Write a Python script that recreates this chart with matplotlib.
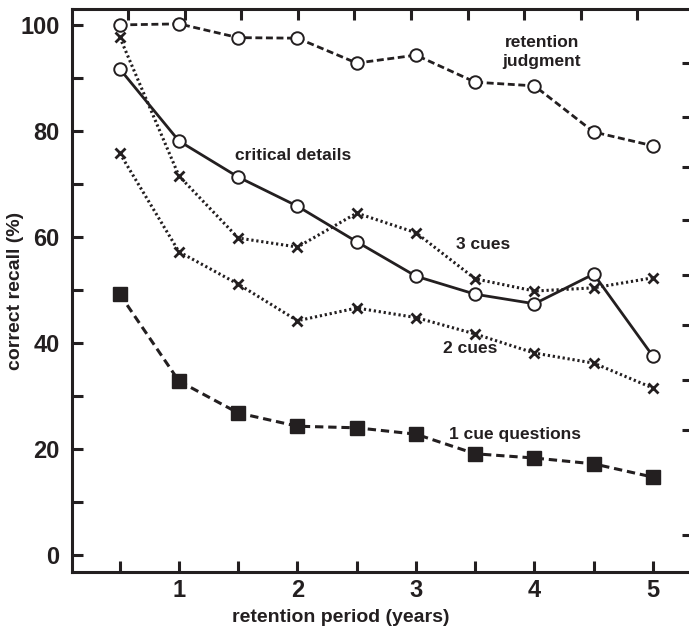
import matplotlib
matplotlib.use("Agg")
import matplotlib.pyplot as plt

plt.rcParams['font.family'] = ['Liberation Sans', 'DejaVu Sans']
plt.rcParams['font.weight'] = 'bold'
plt.rcParams['lines.scale_dashes'] = False

INK = '#231f20'

years = [0.5, 1, 1.5, 2, 2.5, 3, 3.5, 4, 4.5, 5]
retention_judgment = [100.0, 100.2, 97.6, 97.5, 92.8, 94.3, 89.2, 88.5, 79.8, 77.2]
critical_details = [91.7, 78.1, 71.3, 65.8, 59.1, 52.6, 49.2, 47.4, 53.0, 37.5]
three_cues = [97.7, 71.5, 59.8, 58.1, 64.5, 60.8, 52.1, 49.8, 50.4, 52.3]
two_cues = [75.8, 57.2, 51.1, 44.2, 46.6, 44.8, 41.7, 38.1, 36.2, 31.5]
one_cue = [49.2, 32.8, 26.8, 24.3, 24.0, 22.8, 19.1, 18.3, 17.2, 14.7]

yticks = [0, 20, 40, 60, 80, 100]
xticks = [1, 2, 3, 4, 5]

fig = plt.figure(figsize=(6.89, 6.35), dpi=100)
ax = fig.add_axes([0.1045, 0.0992, 0.8955, 0.8866])

# retention judgment: dashed, open circles
ax.plot(years, retention_judgment, color=INK, lw=2.0, dashes=(5, 2.6),
        marker='o', ms=9, mfc='white', mec=INK, mew=1.4, zorder=3)
# critical details: solid, open circles
ax.plot(years, critical_details, color=INK, lw=2.0,
        marker='o', ms=9, mfc='white', mec=INK, mew=1.4, zorder=4)
# cue conditions: dotted with x markers
ax.plot(years, three_cues, color=INK, lw=2.2, dashes=(1.6, 2.0),
        marker='x', ms=7.5, mec=INK, mew=2.0, zorder=3)
ax.plot(years, two_cues, color=INK, lw=2.2, dashes=(1.6, 2.0),
        marker='x', ms=7.5, mec=INK, mew=2.0, zorder=3)
# 1 cue questions: long dashes, filled squares
ax.plot(years, one_cue, color=INK, lw=2.2, dashes=(6, 3.5),
        marker='s', ms=9.5, mfc=INK, mec=INK, zorder=3)

lab = dict(fontsize=12.5, fontweight='bold', color=INK)
ax.text(4.06, 94.9, 'retention\njudgment', ha='center', va='center', linespacing=1.4, **lab)
ax.text(1.47, 75.3, 'critical details', ha='left', va='center', **lab)
ax.text(3.34, 58.5, '3 cues', ha='left', va='center', **lab)
ax.text(3.23, 38.9, '2 cues', ha='left', va='center', **lab)
ax.text(3.28, 22.8, '1 cue questions', ha='left', va='center', **lab)

ax.set_xlim(0.097, 5.304)
ax.set_ylim(-3.2, 103.0)

ax.set_xticks(xticks)
ax.set_xticks([0.5, 1.5, 2.5, 3.5, 4.5], minor=True)
ax.set_yticks(yticks)
ax.set_yticks([10, 30, 50, 70, 90], minor=True)
ax.tick_params(which='both', direction='in', length=8, width=2.2, color=INK,
               labelsize=17, labelcolor=INK, top=False, right=False)
ax.tick_params(axis='y', which='both', pad=9)
ax.tick_params(axis='x', which='both', pad=5)
for t in ax.get_xticklabels() + ax.get_yticklabels():
    t.set_fontweight('bold')

for side in ['left', 'bottom', 'top']:
    ax.spines[side].set_linewidth(2.2)
    ax.spines[side].set_color(INK)
ax.spines['right'].set_visible(False)

# odd extra ticks on the top and right edges of the original figure
top = ax.twiny()
top.set_xlim(ax.get_xlim())
top.set_xticks([0.570 + 0.4776 * k for k in range(10)])
top.set_xticklabels([])
top.tick_params(direction='in', length=8, width=2.2, color=INK)
for s in top.spines.values():
    s.set_visible(False)

right = ax.twinx()
right.set_ylim(ax.get_ylim())
right.set_yticks([92.8, 82.6, 73.2, 63.2, 52.8, 43.4, 33.0, 23.6, 3.8])
right.set_yticklabels([])
right.tick_params(direction='in', length=5, width=2.2, color=INK)
for s in right.spines.values():
    s.set_visible(False)

fig.text(0.495, 0.027, 'retention period (years)', ha='center', va='center',
         fontsize=14, fontweight='bold', color=INK)
fig.text(0.022, 0.542, 'correct recall (%)', ha='center', va='center', rotation=90,
         fontsize=14, fontweight='bold', color=INK)

fig.savefig('out.png', dpi=100)
